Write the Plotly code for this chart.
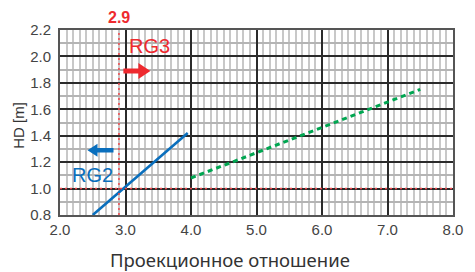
import plotly.graph_objects as go

# ---- data ----
rg2_x = [2.5, 3.95]
rg2_y = [0.8, 1.42]
rg3_x = [4.0, 7.5]
rg3_y = [1.08, 1.75]
limit_ratio = 2.9
limit_hd = 1.0
x_range = [2.0, 8.0]
y_range = [0.8, 2.2]
x_ticks = [2.0, 3.0, 4.0, 5.0, 6.0, 7.0, 8.0]
y_ticks = [0.8, 1.0, 1.2, 1.4, 1.6, 1.8, 2.0, 2.2]
x_title = "Проекционное отношение"
y_title = "HD [m]"

RED = "#ee2a2f"
DOT_RED = "#f0464b"
BLUE = "#0a6fbd"
GREEN = "#00a651"
FONT = "Liberation Sans"

fig = go.Figure()
fig.add_trace(go.Scatter(x=rg2_x, y=rg2_y, mode="lines",
                         line=dict(color=BLUE, width=2.6), hoverinfo="skip"))
fig.add_trace(go.Scatter(x=rg3_x, y=rg3_y, mode="lines",
                         line=dict(color=GREEN, width=3, dash="5px,4px"), hoverinfo="skip"))

# red dotted reference lines
fig.add_shape(type="line", x0=limit_ratio, x1=limit_ratio, y0=y_range[0], y1=y_range[1],
              xref="x", yref="y", line=dict(color=DOT_RED, width=1.5, dash="2px,3px"))
fig.add_shape(type="line", x0=x_range[0], x1=x_range[1], y0=limit_hd, y1=limit_hd,
              xref="x", yref="y", line=dict(color=DOT_RED, width=1.5, dash="2px,3px"))


def arrow(tip_x, tip_y, direction, length, head_len, head_half, shaft_half, color):
    d = direction
    pts = [(0, 0), (-d * head_len, head_half), (-d * head_len, shaft_half),
           (-d * length, shaft_half), (-d * length, -shaft_half),
           (-d * head_len, -shaft_half), (-d * head_len, -head_half)]
    path = "M " + " L ".join(f"{px},{py}" for px, py in pts) + " Z"
    fig.add_shape(type="path", path=path, xsizemode="pixel", ysizemode="pixel",
                  xanchor=tip_x, yanchor=tip_y, xref="x", yref="y",
                  fillcolor=color, line=dict(width=0), layer="above")


arrow(3.38, 1.89, 1, 27, 12, 8, 2.5, RED)
arrow(2.42, 1.29, -1, 26, 10, 6.5, 2.2, BLUE)

fig.add_annotation(x=3.37, y=2.079, xref="x", yref="y", text="RG3", showarrow=False,
                   xanchor="center", yanchor="middle",
                   font=dict(family=FONT, size=20, color=RED))
fig.add_annotation(x=2.495, y=1.103, xref="x", yref="y", text="RG2", showarrow=False,
                   xanchor="center", yanchor="middle",
                   font=dict(family=FONT, size=20, color=BLUE))
fig.add_annotation(x=limit_ratio, y=1.065, xref="x", yref="paper", text="<b>2.9</b>",
                   showarrow=False, xanchor="center", yanchor="middle",
                   font=dict(family=FONT, size=16, color=RED))
fig.add_annotation(x=0.4325, y=-0.238, xref="paper", yref="paper", text=x_title,
                   showarrow=False, xanchor="center", yanchor="middle",
                   font=dict(family="Noto Sans", size=18.5, color="#333"))
fig.add_annotation(x=-0.1075, y=0.486, xref="paper", yref="paper", text=y_title,
                   showarrow=False, textangle=-90, xanchor="center", yanchor="middle",
                   font=dict(family=FONT, size=15, color="#333"))

fig.update_xaxes(range=x_range, tickvals=x_ticks, ticktext=[f"{v:.1f}" for v in x_ticks],
                 showgrid=True, gridcolor="#2b2b2b", gridwidth=1.5,
                 minor=dict(dtick=0.1, tick0=2.0, showgrid=True, gridcolor="#c8c8c8", gridwidth=1.5),
                 showline=True, mirror=True, linecolor="#555", linewidth=2,
                 zeroline=False, ticks="", ticklabelstandoff=0,
                 tickfont=dict(family=FONT, size=15, color="#444"))
fig.update_yaxes(range=y_range, tickvals=y_ticks, ticktext=[f"{v:.1f}" for v in y_ticks],
                 showgrid=True, gridcolor="#2b2b2b", gridwidth=1.5,
                 minor=dict(dtick=0.1, tick0=0.8, showgrid=True, gridcolor="#b4b4b4", gridwidth=1.5),
                 showline=True, mirror=True, linecolor="#555", linewidth=2,
                 zeroline=False, ticks="", ticklabelstandoff=4,
                 tickfont=dict(family=FONT, size=15, color="#444"))

fig.update_layout(width=475, height=272, margin=dict(l=60, r=15, t=30, b=57),
                  plot_bgcolor="white", paper_bgcolor="white", showlegend=False)

fig.write_html("out.html", config={"displayModeBar": False},
               post_script="document.body.style.margin='0';")
